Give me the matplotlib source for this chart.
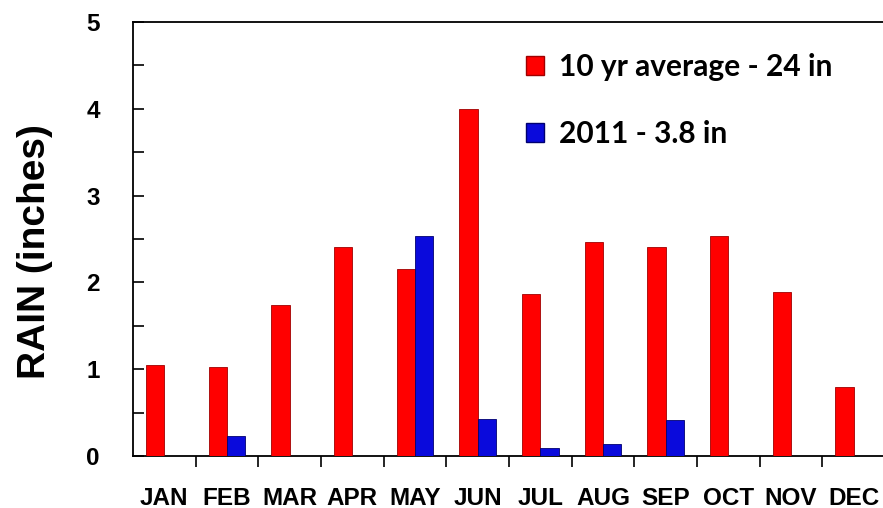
import matplotlib
matplotlib.use("Agg")
import matplotlib.pyplot as plt
import numpy as np
from matplotlib.patches import Patch

months = ["JAN", "FEB", "MAR", "APR", "MAY", "JUN", "JUL", "AUG", "SEP", "OCT", "NOV", "DEC"]
avg_10yr = [1.05, 1.03, 1.74, 2.41, 2.15, 4.00, 1.87, 2.46, 2.41, 2.54, 1.89, 0.79]
rain_2011 = [0.0, 0.23, 0.0, 0.0, 2.53, 0.43, 0.09, 0.14, 0.41, 0.0, 0.0, 0.0]
labels = ["10 yr average - 24 in", "2011 - 3.8 in"]
yticks = [0, 1, 2, 3, 4, 5]

fig = plt.figure(figsize=(8.83, 5.08), dpi=100)
ax = fig.add_axes([133/883, 52/508, 752/883, 434/508])

x = np.arange(len(months))
w = 0.29
red = "#FF0000"
blue = "#0A0ADC"
ax.bar(x - w/2, avg_10yr, w, color=red, edgecolor="#A00000", linewidth=0.6, zorder=3)
ax.bar(x + w/2, rain_2011, w, color=blue, edgecolor="#000070", linewidth=0.6, zorder=3)

ax.set_xlim(-0.5, 11.5)
ax.set_ylim(0, 5)

ax.spines["right"].set_visible(False)
for s in ["left", "bottom", "top"]:
    ax.spines[s].set_linewidth(1.3)
    ax.spines[s].set_color("black")

tickfont = dict(family=["Liberation Sans Narrow", "Liberation Sans", "DejaVu Sans"], weight="bold", size=17.5)

ax.set_yticks(yticks)
ax.set_yticklabels([str(v) for v in yticks], **tickfont)
ax.set_yticks(np.arange(0.5, 5, 1.0), minor=True)
ax.tick_params(axis="y", which="both", direction="in", length=8, width=1.2, pad=24)

ax.set_xticks(x)
ax.set_xticklabels(months, **tickfont)
ax.set_xticks(np.arange(0.5, 11.5, 1.0), minor=True)
ax.tick_params(axis="x", which="major", length=0, pad=22)
ax.tick_params(axis="x", which="minor", direction="out", length=8, width=1.2)

ax.set_ylabel("RAIN (inches)", family=["Liberation Sans", "DejaVu Sans"], weight="bold", size=28)
ax.yaxis.set_label_coords(-0.106, 0.47)

handles = [Patch(facecolor=red, edgecolor="#A00000"), Patch(facecolor=blue, edgecolor="#000070")]
leg = ax.legend(handles, labels, loc="upper left", bbox_to_anchor=(381/752, 1 - 19/434), frameon=False,
                prop=dict(family=["Lato", "DejaVu Sans"], weight="bold", size=21.5),
                handlelength=0.6, handleheight=0.6, handletextpad=0.5, labelspacing=1.3, borderaxespad=0)

fig.savefig("out.png", dpi=100)
